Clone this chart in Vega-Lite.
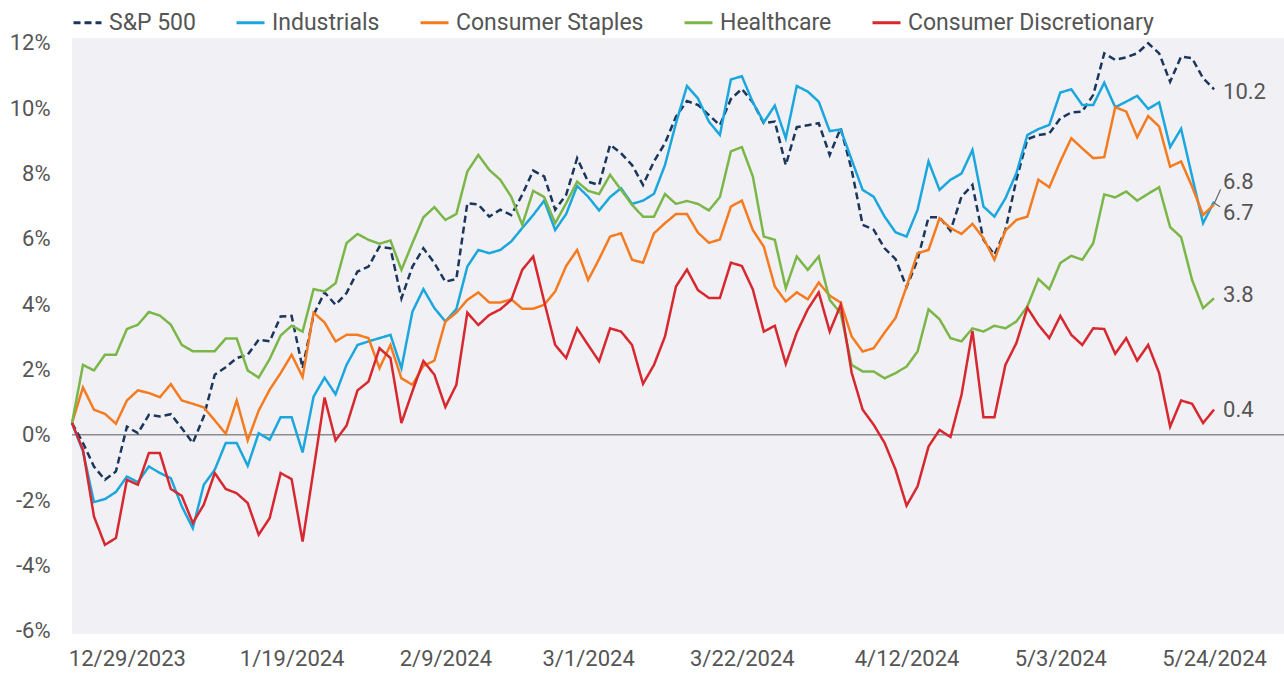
{
  "$schema": "https://vega.github.io/schema/vega-lite/v6.json",
  "width": 1212,
  "height": 596,
  "autosize": {"type": "none"},
  "padding": {"left": 72, "top": 38, "right": 0, "bottom": 41},
  "background": "#ffffff",
  "config": {
    "font": "Roboto",
    "view": {"fill": "#f1f1f5", "stroke": null},
    "axis": {"grid": false, "domain": false, "ticks": false, "labelFont": "Roboto", "labelFontSize": 22, "labelColor": "#555555", "title": null},
    "legend": {"labelLimit": 400}
  },
  "datasets": {
    "returns": [
      {"d":0,"S&P 500":0.36,"Industrials":0.36,"Consumer Staples":0.36,"Healthcare":0.36,"Consumer Discretionary":0.36},
      {"d":1,"S&P 500":-0.25,"Industrials":-0.51,"Consumer Staples":1.45,"Healthcare":2.14,"Consumer Discretionary":-0.46},
      {"d":2,"S&P 500":-0.97,"Industrials":-2.06,"Consumer Staples":0.77,"Healthcare":1.97,"Consumer Discretionary":-2.5},
      {"d":3,"S&P 500":-1.38,"Industrials":-1.97,"Consumer Staples":0.64,"Healthcare":2.45,"Consumer Discretionary":-3.37},
      {"d":4,"S&P 500":-1.12,"Industrials":-1.75,"Consumer Staples":0.34,"Healthcare":2.45,"Consumer Discretionary":-3.16},
      {"d":5,"S&P 500":0.25,"Industrials":-1.28,"Consumer Staples":1.05,"Healthcare":3.24,"Consumer Discretionary":-1.38},
      {"d":6,"S&P 500":0.05,"Industrials":-1.45,"Consumer Staples":1.36,"Healthcare":3.37,"Consumer Discretionary":-1.53},
      {"d":7,"S&P 500":0.61,"Industrials":-0.97,"Consumer Staples":1.28,"Healthcare":3.76,"Consumer Discretionary":-0.56},
      {"d":8,"S&P 500":0.56,"Industrials":-1.17,"Consumer Staples":1.15,"Healthcare":3.65,"Consumer Discretionary":-0.56},
      {"d":9,"S&P 500":0.63,"Industrials":-1.33,"Consumer Staples":1.55,"Healthcare":3.37,"Consumer Discretionary":-1.66},
      {"d":10,"S&P 500":0.2,"Industrials":-2.19,"Consumer Staples":1.05,"Healthcare":2.75,"Consumer Discretionary":-1.87},
      {"d":11,"S&P 500":-0.25,"Industrials":-2.86,"Consumer Staples":0.95,"Healthcare":2.56,"Consumer Discretionary":-2.7},
      {"d":12,"S&P 500":0.56,"Industrials":-1.53,"Consumer Staples":0.84,"Healthcare":2.56,"Consumer Discretionary":-2.14},
      {"d":13,"S&P 500":1.84,"Industrials":-1.07,"Consumer Staples":0.44,"Healthcare":2.56,"Consumer Discretionary":-1.17},
      {"d":14,"S&P 500":2.07,"Industrials":-0.25,"Consumer Staples":0.03,"Healthcare":2.95,"Consumer Discretionary":-1.66},
      {"d":15,"S&P 500":2.35,"Industrials":-0.25,"Consumer Staples":1.05,"Healthcare":2.95,"Consumer Discretionary":-1.79},
      {"d":16,"S&P 500":2.45,"Industrials":-0.95,"Consumer Staples":-0.17,"Healthcare":1.97,"Consumer Discretionary":-2.09},
      {"d":17,"S&P 500":2.91,"Industrials":0.05,"Consumer Staples":0.74,"Healthcare":1.75,"Consumer Discretionary":-3.06},
      {"d":18,"S&P 500":2.86,"Industrials":-0.15,"Consumer Staples":1.38,"Healthcare":2.32,"Consumer Discretionary":-2.55},
      {"d":19,"S&P 500":3.62,"Industrials":0.54,"Consumer Staples":1.89,"Healthcare":3.04,"Consumer Discretionary":-1.17},
      {"d":20,"S&P 500":3.64,"Industrials":0.54,"Consumer Staples":2.45,"Healthcare":3.34,"Consumer Discretionary":-1.36},
      {"d":21,"S&P 500":2.04,"Industrials":-0.54,"Consumer Staples":1.77,"Healthcare":3.16,"Consumer Discretionary":-3.27},
      {"d":22,"S&P 500":3.67,"Industrials":1.17,"Consumer Staples":3.74,"Healthcare":4.46,"Consumer Discretionary":-1.07},
      {"d":23,"S&P 500":4.36,"Industrials":1.75,"Consumer Staples":3.44,"Healthcare":4.39,"Consumer Discretionary":1.14},
      {"d":24,"S&P 500":3.98,"Industrials":1.24,"Consumer Staples":2.86,"Healthcare":4.64,"Consumer Discretionary":-0.17},
      {"d":25,"S&P 500":4.34,"Industrials":2.14,"Consumer Staples":3.06,"Healthcare":5.87,"Consumer Discretionary":0.28},
      {"d":26,"S&P 500":5.0,"Industrials":2.75,"Consumer Staples":3.06,"Healthcare":6.15,"Consumer Discretionary":1.36},
      {"d":27,"S&P 500":5.15,"Industrials":2.86,"Consumer Staples":2.96,"Healthcare":5.97,"Consumer Discretionary":1.63},
      {"d":28,"S&P 500":5.76,"Industrials":2.96,"Consumer Staples":2.04,"Healthcare":5.85,"Consumer Discretionary":2.65},
      {"d":29,"S&P 500":5.71,"Industrials":3.06,"Consumer Staples":2.75,"Healthcare":5.95,"Consumer Discretionary":2.35},
      {"d":30,"S&P 500":4.18,"Industrials":2.04,"Consumer Staples":1.73,"Healthcare":5.05,"Consumer Discretionary":0.36},
      {"d":31,"S&P 500":5.15,"Industrials":3.77,"Consumer Staples":1.53,"Healthcare":5.87,"Consumer Discretionary":1.33},
      {"d":32,"S&P 500":5.71,"Industrials":4.46,"Consumer Staples":2.11,"Healthcare":6.66,"Consumer Discretionary":2.26},
      {"d":33,"S&P 500":5.26,"Industrials":3.88,"Consumer Staples":2.27,"Healthcare":6.97,"Consumer Discretionary":1.84},
      {"d":34,"S&P 500":4.69,"Industrials":3.47,"Consumer Staples":3.47,"Healthcare":6.58,"Consumer Discretionary":0.85},
      {"d":35,"S&P 500":4.77,"Industrials":3.85,"Consumer Staples":3.74,"Healthcare":6.76,"Consumer Discretionary":1.53},
      {"d":36,"S&P 500":7.09,"Industrials":5.15,"Consumer Staples":4.13,"Healthcare":8.06,"Consumer Discretionary":3.74},
      {"d":37,"S&P 500":7.05,"Industrials":5.66,"Consumer Staples":4.36,"Healthcare":8.57,"Consumer Discretionary":3.36},
      {"d":38,"S&P 500":6.68,"Industrials":5.56,"Consumer Staples":4.05,"Healthcare":8.11,"Consumer Discretionary":3.67},
      {"d":39,"S&P 500":6.89,"Industrials":5.66,"Consumer Staples":4.05,"Healthcare":7.81,"Consumer Discretionary":3.84},
      {"d":40,"S&P 500":6.73,"Industrials":5.92,"Consumer Staples":4.15,"Healthcare":7.29,"Consumer Discretionary":4.13},
      {"d":41,"S&P 500":7.35,"Industrials":6.33,"Consumer Staples":3.86,"Healthcare":6.43,"Consumer Discretionary":5.05},
      {"d":42,"S&P 500":8.09,"Industrials":6.73,"Consumer Staples":3.86,"Healthcare":7.47,"Consumer Discretionary":5.46},
      {"d":43,"S&P 500":7.91,"Industrials":7.17,"Consumer Staples":3.98,"Healthcare":7.28,"Consumer Discretionary":4.08},
      {"d":44,"S&P 500":6.89,"Industrials":6.27,"Consumer Staples":4.39,"Healthcare":6.48,"Consumer Discretionary":2.75},
      {"d":45,"S&P 500":7.35,"Industrials":6.76,"Consumer Staples":5.17,"Healthcare":7.09,"Consumer Discretionary":2.35},
      {"d":46,"S&P 500":8.47,"Industrials":7.62,"Consumer Staples":5.66,"Healthcare":7.75,"Consumer Discretionary":3.26},
      {"d":47,"S&P 500":7.75,"Industrials":7.29,"Consumer Staples":4.74,"Healthcare":7.47,"Consumer Discretionary":2.75},
      {"d":48,"S&P 500":7.65,"Industrials":6.87,"Consumer Staples":5.38,"Healthcare":7.37,"Consumer Discretionary":2.25},
      {"d":49,"S&P 500":8.88,"Industrials":7.28,"Consumer Staples":6.07,"Healthcare":7.96,"Consumer Discretionary":3.26},
      {"d":50,"S&P 500":8.62,"Industrials":7.55,"Consumer Staples":6.17,"Healthcare":7.5,"Consumer Discretionary":3.16},
      {"d":51,"S&P 500":8.26,"Industrials":7.07,"Consumer Staples":5.36,"Healthcare":7.04,"Consumer Discretionary":2.75},
      {"d":52,"S&P 500":7.65,"Industrials":7.17,"Consumer Staples":5.27,"Healthcare":6.68,"Consumer Discretionary":1.56},
      {"d":53,"S&P 500":8.37,"Industrials":7.38,"Consumer Staples":6.17,"Healthcare":6.68,"Consumer Discretionary":2.14},
      {"d":54,"S&P 500":8.93,"Industrials":8.26,"Consumer Staples":6.48,"Healthcare":7.37,"Consumer Discretionary":3.01},
      {"d":55,"S&P 500":9.74,"Industrials":9.54,"Consumer Staples":6.76,"Healthcare":7.07,"Consumer Discretionary":4.54},
      {"d":56,"S&P 500":10.22,"Industrials":10.68,"Consumer Staples":6.76,"Healthcare":7.16,"Consumer Discretionary":5.06},
      {"d":57,"S&P 500":10.1,"Industrials":10.3,"Consumer Staples":6.19,"Healthcare":7.07,"Consumer Discretionary":4.43},
      {"d":58,"S&P 500":9.79,"Industrials":9.59,"Consumer Staples":5.88,"Healthcare":6.87,"Consumer Discretionary":4.19},
      {"d":59,"S&P 500":9.48,"Industrials":9.18,"Consumer Staples":5.98,"Healthcare":7.28,"Consumer Discretionary":4.19},
      {"d":60,"S&P 500":10.28,"Industrials":10.88,"Consumer Staples":6.99,"Healthcare":8.68,"Consumer Discretionary":5.27},
      {"d":61,"S&P 500":10.59,"Industrials":10.98,"Consumer Staples":7.17,"Healthcare":8.81,"Consumer Discretionary":5.17},
      {"d":62,"S&P 500":10.18,"Industrials":10.18,"Consumer Staples":6.27,"Healthcare":7.91,"Consumer Discretionary":4.45},
      {"d":63,"S&P 500":9.54,"Industrials":9.57,"Consumer Staples":5.76,"Healthcare":6.07,"Consumer Discretionary":3.16},
      {"d":64,"S&P 500":9.59,"Industrials":10.08,"Consumer Staples":4.54,"Healthcare":5.97,"Consumer Discretionary":3.34},
      {"d":65,"S&P 500":8.26,"Industrials":9.08,"Consumer Staples":4.08,"Healthcare":4.49,"Consumer Discretionary":2.17},
      {"d":66,"S&P 500":9.42,"Industrials":10.68,"Consumer Staples":4.36,"Healthcare":5.46,"Consumer Discretionary":3.13},
      {"d":67,"S&P 500":9.48,"Industrials":10.51,"Consumer Staples":4.15,"Healthcare":5.05,"Consumer Discretionary":3.84},
      {"d":68,"S&P 500":9.54,"Industrials":10.2,"Consumer Staples":4.66,"Healthcare":5.46,"Consumer Discretionary":4.36},
      {"d":69,"S&P 500":8.57,"Industrials":9.3,"Consumer Staples":4.26,"Healthcare":4.13,"Consumer Discretionary":3.16},
      {"d":70,"S&P 500":9.39,"Industrials":9.35,"Consumer Staples":4.05,"Healthcare":3.72,"Consumer Discretionary":3.98},
      {"d":71,"S&P 500":8.11,"Industrials":8.42,"Consumer Staples":3.01,"Healthcare":2.14,"Consumer Discretionary":1.9},
      {"d":72,"S&P 500":6.43,"Industrials":7.5,"Consumer Staples":2.55,"Healthcare":1.94,"Consumer Discretionary":0.77},
      {"d":73,"S&P 500":6.28,"Industrials":7.29,"Consumer Staples":2.65,"Healthcare":1.94,"Consumer Discretionary":0.31},
      {"d":74,"S&P 500":5.71,"Industrials":6.68,"Consumer Staples":3.13,"Healthcare":1.73,"Consumer Discretionary":-0.25},
      {"d":75,"S&P 500":5.38,"Industrials":6.2,"Consumer Staples":3.58,"Healthcare":1.89,"Consumer Discretionary":-1.07},
      {"d":76,"S&P 500":4.52,"Industrials":6.07,"Consumer Staples":4.54,"Healthcare":2.09,"Consumer Discretionary":-2.17},
      {"d":77,"S&P 500":5.36,"Industrials":6.89,"Consumer Staples":5.56,"Healthcare":2.55,"Consumer Discretionary":-1.58},
      {"d":78,"S&P 500":6.66,"Industrials":8.37,"Consumer Staples":5.66,"Healthcare":3.84,"Consumer Discretionary":-0.36},
      {"d":79,"S&P 500":6.66,"Industrials":7.5,"Consumer Staples":6.63,"Healthcare":3.54,"Consumer Discretionary":0.15},
      {"d":80,"S&P 500":6.25,"Industrials":7.81,"Consumer Staples":6.33,"Healthcare":2.96,"Consumer Discretionary":-0.07},
      {"d":81,"S&P 500":7.29,"Industrials":8.0,"Consumer Staples":6.15,"Healthcare":2.86,"Consumer Discretionary":1.22},
      {"d":82,"S&P 500":7.65,"Industrials":8.72,"Consumer Staples":6.46,"Healthcare":3.26,"Consumer Discretionary":3.18},
      {"d":83,"S&P 500":5.97,"Industrials":6.99,"Consumer Staples":6.02,"Healthcare":3.16,"Consumer Discretionary":0.54},
      {"d":84,"S&P 500":5.51,"Industrials":6.68,"Consumer Staples":5.36,"Healthcare":3.34,"Consumer Discretionary":0.54},
      {"d":85,"S&P 500":6.27,"Industrials":7.24,"Consumer Staples":6.25,"Healthcare":3.26,"Consumer Discretionary":2.14},
      {"d":86,"S&P 500":7.81,"Industrials":8.01,"Consumer Staples":6.58,"Healthcare":3.47,"Consumer Discretionary":2.81},
      {"d":87,"S&P 500":9.05,"Industrials":9.18,"Consumer Staples":6.68,"Healthcare":3.93,"Consumer Discretionary":3.89},
      {"d":88,"S&P 500":9.18,"Industrials":9.36,"Consumer Staples":7.81,"Healthcare":4.77,"Consumer Discretionary":3.37},
      {"d":89,"S&P 500":9.23,"Industrials":9.49,"Consumer Staples":7.58,"Healthcare":4.46,"Consumer Discretionary":2.96},
      {"d":90,"S&P 500":9.69,"Industrials":10.48,"Consumer Staples":8.37,"Healthcare":5.26,"Consumer Discretionary":3.64},
      {"d":91,"S&P 500":9.87,"Industrials":10.58,"Consumer Staples":9.08,"Healthcare":5.48,"Consumer Discretionary":3.06},
      {"d":92,"S&P 500":9.9,"Industrials":10.1,"Consumer Staples":8.77,"Healthcare":5.36,"Consumer Discretionary":2.75},
      {"d":93,"S&P 500":10.41,"Industrials":10.1,"Consumer Staples":8.47,"Healthcare":5.87,"Consumer Discretionary":3.26},
      {"d":94,"S&P 500":11.68,"Industrials":10.78,"Consumer Staples":8.5,"Healthcare":7.36,"Consumer Discretionary":3.24},
      {"d":95,"S&P 500":11.48,"Industrials":10.03,"Consumer Staples":10.03,"Healthcare":7.27,"Consumer Discretionary":2.48},
      {"d":96,"S&P 500":11.56,"Industrials":10.2,"Consumer Staples":9.9,"Healthcare":7.45,"Consumer Discretionary":2.96},
      {"d":97,"S&P 500":11.68,"Industrials":10.38,"Consumer Staples":9.11,"Healthcare":7.17,"Consumer Discretionary":2.27},
      {"d":98,"S&P 500":11.99,"Industrials":9.98,"Consumer Staples":9.76,"Healthcare":7.38,"Consumer Discretionary":2.75},
      {"d":99,"S&P 500":11.68,"Industrials":10.18,"Consumer Staples":9.44,"Healthcare":7.58,"Consumer Discretionary":1.89},
      {"d":100,"S&P 500":10.81,"Industrials":8.81,"Consumer Staples":8.21,"Healthcare":6.36,"Consumer Discretionary":0.25},
      {"d":101,"S&P 500":11.58,"Industrials":9.37,"Consumer Staples":8.37,"Healthcare":6.05,"Consumer Discretionary":1.05},
      {"d":102,"S&P 500":11.53,"Industrials":7.91,"Consumer Staples":7.6,"Healthcare":4.74,"Consumer Discretionary":0.95},
      {"d":103,"S&P 500":10.92,"Industrials":6.48,"Consumer Staples":6.73,"Healthcare":3.88,"Consumer Discretionary":0.36},
      {"d":104,"S&P 500":10.58,"Industrials":7.14,"Consumer Staples":7.05,"Healthcare":4.18,"Consumer Discretionary":0.77}
    ],
    "ends": [
      {"d":104,"label":"10.2","at":10.5},
      {"d":104,"label":"6.8","at":7.75},
      {"d":104,"label":"6.7","at":6.8},
      {"d":104,"label":"3.8","at":4.29},
      {"d":104,"label":"0.4","at":0.76}
    ],
    "leaders": [
      {"d":104,"d2":104.6,"y1":7.07,"y2":7.52},
      {"d":104,"d2":104.55,"y1":7.1,"y2":6.98}
    ]
  },
  "layer": [
    {
      "data": {"values": [{"v": 0}]},
      "mark": {"type": "rule", "color": "#8c8c8c", "strokeWidth": 1.5},
      "encoding": {
        "y": {
          "field": "v", "type": "quantitative",
          "scale": {"domain": [-6.1, 12.15], "nice": false, "zero": false},
          "axis": {"values": [-6, -4, -2, 0, 2, 4, 6, 8, 10, 12], "labelExpr": "datum.value + '%'", "labelPadding": 22, "labelFlush": false, "labelOverlap": false}
        }
      }
    },
    {
      "data": {"name": "returns"},
      "transform": [{"fold": ["S&P 500", "Industrials", "Consumer Staples", "Healthcare", "Consumer Discretionary"], "as": ["series", "v"]}],
      "mark": {"type": "line", "strokeWidth": 2.5},
      "encoding": {
        "x": {
          "field": "d", "type": "quantitative",
          "scale": {"domain": [0, 110.37], "nice": false, "zero": false},
          "axis": {
            "values": [5, 20, 34, 47, 61, 76, 90, 104],
            "labelExpr": "['12/29/2023','1/19/2024','2/9/2024','3/1/2024','3/22/2024','4/12/2024','5/3/2024','5/24/2024'][indexof([5,20,34,47,61,76,90,104], datum.value)]",
            "labelFlush": false, "labelOverlap": false, "labelPadding": 14
          }
        },
        "y": {
          "field": "v", "type": "quantitative",
          "scale": {"domain": [-6.1, 12.15], "nice": false, "zero": false}
        },
        "color": {
          "field": "series", "type": "nominal",
          "scale": {"domain": ["S&P 500", "Industrials", "Consumer Staples", "Healthcare", "Consumer Discretionary"], "range": ["#1b365d", "#1ba7de", "#f47b20", "#7ab648", "#d7282f"]},
          "legend": {"title": null, "orient": "none", "legendX": 0, "legendY": -31, "direction": "horizontal", "symbolType": "stroke", "symbolSize": 784, "symbolStrokeWidth": 3, "labelFontSize": 23, "labelFont": "Roboto", "labelColor": "#555555", "columnPadding": 34, "labelOffset": 6, "labelLimit": 400}
        },
        "strokeDash": {
          "field": "series", "type": "nominal",
          "scale": {"domain": ["S&P 500", "Industrials", "Consumer Staples", "Healthcare", "Consumer Discretionary"], "range": [[7, 4], [1, 0], [1, 0], [1, 0], [1, 0]]},
          "legend": {"title": null, "orient": "none", "legendX": 0, "legendY": -31, "direction": "horizontal", "symbolType": "stroke", "symbolSize": 784, "symbolStrokeWidth": 3, "labelFontSize": 23, "labelFont": "Roboto", "labelColor": "#555555", "columnPadding": 34, "labelOffset": 6, "labelLimit": 400}
        }
      }
    },
    {
      "data": {"name": "leaders"},
      "mark": {"type": "rule", "color": "#666666", "strokeWidth": 1.2},
      "encoding": {
        "x": {"field": "d", "type": "quantitative", "scale": {"domain": [0, 110.37], "nice": false, "zero": false}},
        "x2": {"field": "d2"},
        "y": {"field": "y1", "type": "quantitative", "scale": {"domain": [-6.1, 12.15], "nice": false, "zero": false}},
        "y2": {"field": "y2"}
      }
    },
    {
      "data": {"name": "ends"},
      "mark": {"type": "text", "align": "left", "baseline": "middle", "dx": 9, "fontSize": 22, "font": "Roboto", "color": "#555555"},
      "encoding": {
        "x": {"field": "d", "type": "quantitative", "scale": {"domain": [0, 110.37], "nice": false, "zero": false}},
        "y": {"field": "at", "type": "quantitative", "scale": {"domain": [-6.1, 12.15], "nice": false, "zero": false}},
        "text": {"field": "label"}
      }
    }
  ]
}
